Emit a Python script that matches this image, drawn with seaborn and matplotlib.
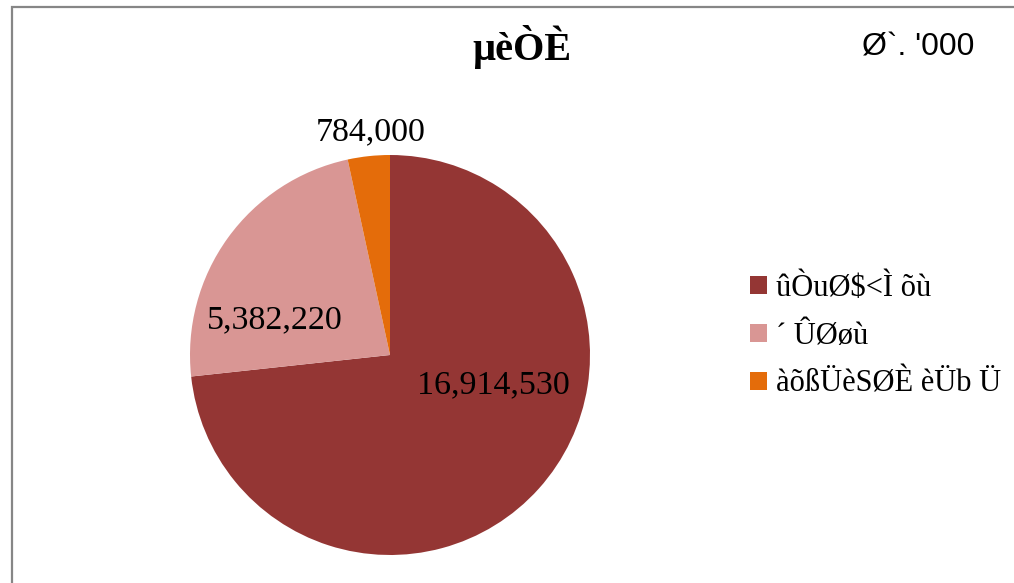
import matplotlib
matplotlib.use("Agg")
import matplotlib.pyplot as plt
import seaborn as sns
import numpy as np
from matplotlib.patches import Rectangle, Patch

sns.set_theme(style="white")
plt.rcParams['font.family'] = ['Liberation Serif', 'DejaVu Serif']
plt.rcParams['text.color'] = 'black'

# Data
categories = ["ûÒuØ$<Ì õù", "´ ÛØøù", "àõßÜèSØÈ èÜb Ü"]
values = [16914530, 5382220, 784000]
colors = ["#943634", "#D99694", "#E46C0A"]
title = "µèÒÈ"
unit = "Ø`. '000"

fig = plt.figure(figsize=(10.14, 5.83), dpi=100)
fig.patch.set_facecolor("white")

# chart frame (only top/left visible in the crop)
fig.patches.append(Rectangle((12 / 1014, -0.05), 1.1, (583 - 7) / 583 + 0.05,
                             transform=fig.transFigure, fill=False,
                             edgecolor="#868686", linewidth=1.6))

ax = fig.add_axes([190 / 1014, 28 / 583, 400 / 1014, 400 / 583])
wedges, _ = ax.pie(values, colors=colors, startangle=90, counterclock=False,
                   radius=1, wedgeprops=dict(linewidth=0))
ax.set_aspect("equal")
ax.set_xlim(-1, 1)
ax.set_ylim(-1, 1)

# data labels
label_pos = [(0.515, -0.15), (-0.575, 0.175), (-0.095, 1.115)]
for v, (x, y) in zip(values, label_pos):
    ax.text(x, y, f"{v:,}", ha="center", va="center", fontsize=24.5, color="black")

fig.text(522 / 1014, 1 - 47 / 583, title, ha="center", va="center",
         fontsize=29, fontweight="bold", color="black")
fig.text(918 / 1014, 1 - 48 / 583, unit, ha="center", va="center", fontsize=23,
         family=["Liberation Sans Narrow", "Liberation Sans", "DejaVu Sans"], color="black")

handles = [Patch(facecolor=c, edgecolor="none") for c in colors]
fig.legend(handles, categories, loc="center left", bbox_to_anchor=(738 / 1014, 1 - 336 / 583),
           frameon=False, fontsize=22, handlelength=0.55, handleheight=0.55,
           handletextpad=0.3, labelspacing=0.62, borderaxespad=0)

fig.savefig("out.png", dpi=100)
